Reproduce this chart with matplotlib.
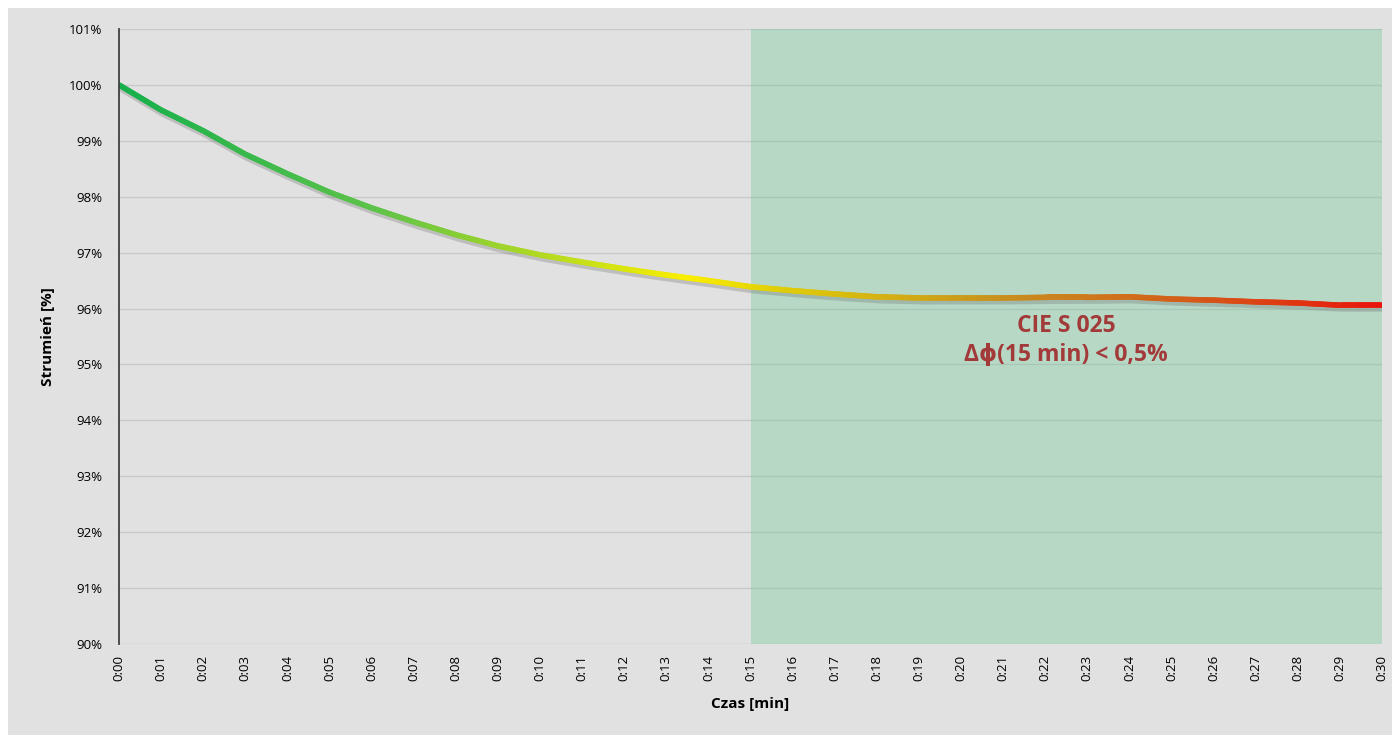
import numpy as np
import matplotlib
matplotlib.use("Agg")
import matplotlib.pyplot as plt
import matplotlib.transforms as mtransforms
from matplotlib.collections import LineCollection
from matplotlib.colors import LinearSegmentedColormap
from matplotlib.patches import Rectangle

plt.rcParams['font.family'] = ['Open Sans', 'DejaVu Sans']

# czas w minutach i strumien w %
minutes = list(range(0, 31))
tick_labels = ["0:{:02d}".format(m) for m in minutes]
flux = [100.0, 99.55, 99.18, 98.76, 98.41, 98.08, 97.80, 97.55, 97.32, 97.12,
        96.96, 96.83, 96.71, 96.60, 96.50, 96.39, 96.32, 96.26, 96.21, 96.19,
        96.19, 96.19, 96.20, 96.20, 96.21, 96.17, 96.15, 96.12, 96.10, 96.06,
        96.06]
zone_start, zone_end = 15, 30
note = "CIE S 025\nΔϕ(15 min) < 0,5%"

fig = plt.figure(figsize=(13.92, 7.35), dpi=100)
fig.patch.set_facecolor('white')
fig.patches.append(Rectangle((8 / 1392, 0), 1, 727 / 735, transform=fig.transFigure,
                             facecolor='#e1e1e1', edgecolor='none', zorder=-10))

ax = fig.add_axes([119 / 1392, 1 - 644 / 735, 1263 / 1392, 615 / 735])
ax.set_facecolor('#e1e1e1')

ax.axvspan(zone_start, zone_end, color=(85 / 255, 198 / 255, 135 / 255), alpha=0.3,
           lw=0, zorder=2)

# dense line for smooth colour gradient
x = np.linspace(minutes[0], minutes[-1], 600)
y = np.interp(x, minutes, flux)
pts = np.array([x, y]).T.reshape(-1, 1, 2)
segs = np.concatenate([pts[:-1], pts[1:]], axis=1)

shadow = mtransforms.offset_copy(ax.transData, fig=fig, x=1, y=-2.5, units='points')
ax.plot(x, y, color='#707070', lw=4.5, alpha=0.3, transform=shadow, zorder=3,
        solid_capstyle='butt')

cmap = LinearSegmentedColormap.from_list('flux', [
    (0.0, '#16b04c'), (0.2, '#5cc24a'), (0.45, '#fbee00'), (0.52, '#e0cf08'),
    (0.7, '#c8901e'), (0.85, '#d45c18'), (1.0, '#ea160c')])
lc = LineCollection(segs, cmap=cmap, linewidths=4, zorder=4, capstyle='round')
lc.set_array((x[:-1] - minutes[0]) / (minutes[-1] - minutes[0]))
lc.set_clim(0, 1)
ax.add_collection(lc)

ax.text(22.5, 95.43, note, ha='center', va='center', fontsize=16.5,
        fontweight='bold', color='#a33a3a', linespacing=1.3, zorder=5)

ax.set_xlim(minutes[0], minutes[-1])
ax.set_ylim(90, 101)
ax.set_xticks(minutes)
ax.set_xticklabels(tick_labels, rotation=90, fontsize=9.5)
ax.set_yticks(range(90, 102))
ax.set_yticklabels(["{}%".format(v) for v in range(90, 102)], fontsize=9.5)
ax.tick_params(axis='y', length=0, pad=12)
ax.tick_params(axis='x', length=0, pad=8)
ax.grid(axis='y', color='#c9c9c9', lw=1, zorder=1)
ax.set_axisbelow(True)
for s in ['top', 'right', 'bottom']:
    ax.spines[s].set_visible(False)
ax.spines['left'].set_color('#404040')
ax.spines['left'].set_linewidth(1.3)
ax.spines['left'].set_zorder(6)

ax.set_xlabel('Czas [min]', fontsize=11, fontweight='bold', labelpad=11)
ax.set_ylabel('Strumień [%]', fontsize=11, fontweight='bold', labelpad=10)

fig.savefig('out.png', dpi=100)
